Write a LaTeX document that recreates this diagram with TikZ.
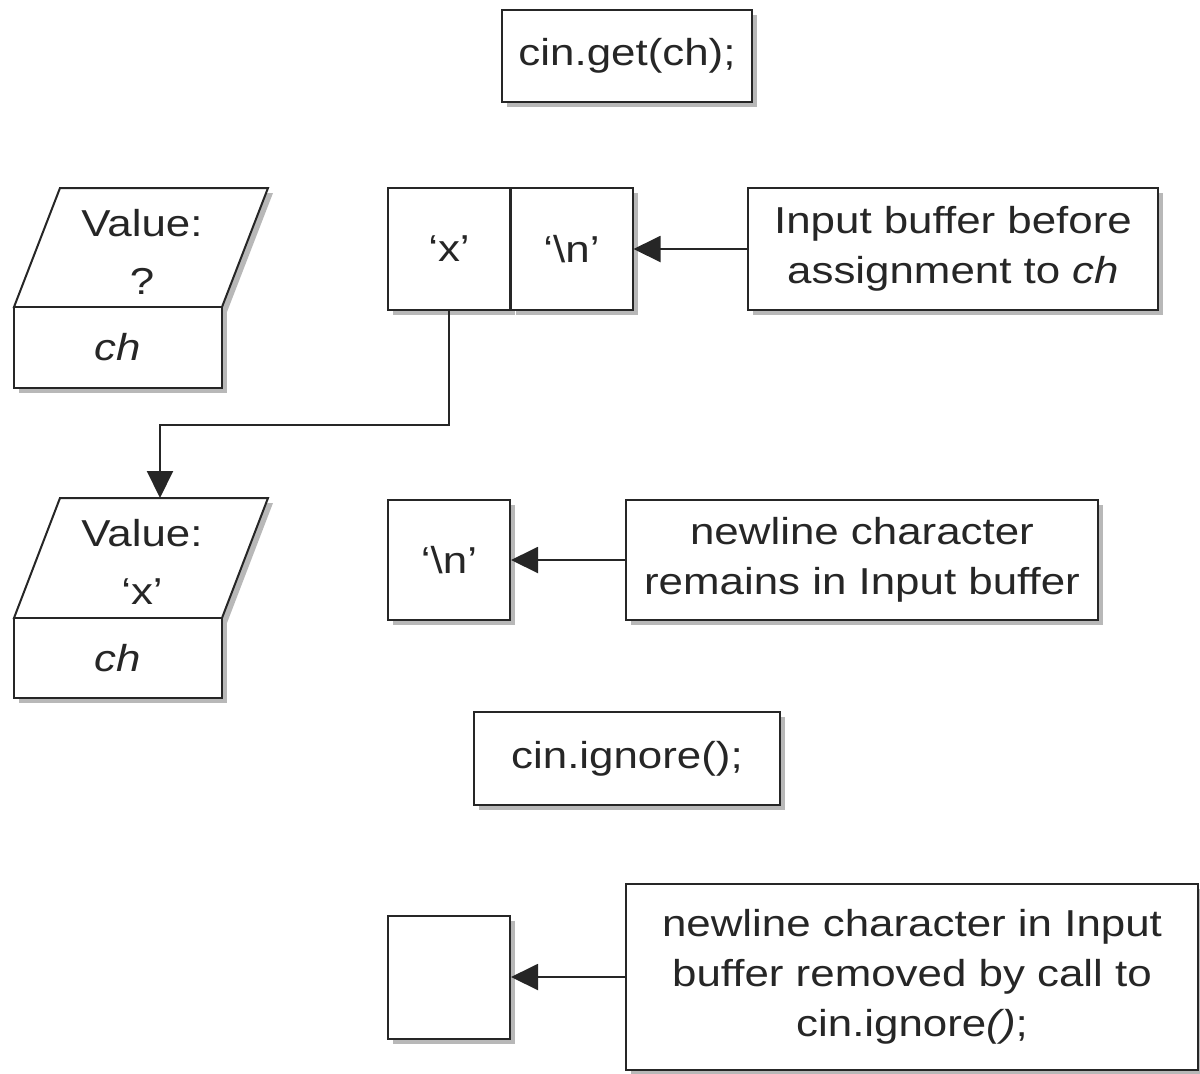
\documentclass[tikz,border=0pt]{standalone}
\usepackage{fontspec}
\setmainfont{Liberation Sans}[FakeStretch=1.17]
\usetikzlibrary{arrows.meta,shadows}
\tikzset{
  shad/.style={drop shadow={shadow xshift=2.5pt,shadow yshift=-2.5pt,fill=black!28,opacity=1}},
  box/.style={draw=black!85,line width=1pt,fill=white,shad,align=center,inner sep=0pt},
  cell/.style={box,minimum width=61pt,minimum height=61pt},
  arr/.style={draw=black!85,line width=1pt,-{Triangle[length=13.5pt,width=13pt]}}
}
\begin{document}
\begin{tikzpicture}[x=0.5pt,y=-0.5pt,font=\fontsize{18.75pt}{25pt}\selectfont,text=black!85]
    \useasboundingbox (0,0) rectangle (1200,1073);
    \node [box,minimum width=125pt,minimum height=46pt] (get) at (627,56) {cin.get(ch);};
    \filldraw [draw=black!85,fill=white,line width=1pt,shad] (14,307) -- (60,188) -- (268,188) -- (222,307) -- cycle;
    \node [box,minimum width=104pt,minimum height=40.5pt] (ch1) at (118,347.5) {\textit{ch}};
    \node [align=center] (val1) at (142,252) {Value:\\[4pt]?};
    \node [cell] (cx) at (449,249) {`x'};
    \node [cell] (cn) at (571.5,249) {`\textbackslash n'};
    \node [box,minimum width=205pt,minimum height=61pt] (note1) at (953,249) {Input buffer before\\assignment to \textit{ch}};
    \draw [arr] (note1.west) -- (cn.east);
    \coordinate (bend) at (160,425);
    \coordinate (val2top) at (160,498);
    \draw [arr] (cx.south) |- (bend) -- (val2top);
    \filldraw [draw=black!85,fill=white,line width=1pt,shad] (14,618) -- (60,498) -- (268,498) -- (222,618) -- cycle;
    \node [box,minimum width=104pt,minimum height=40pt] (ch2) at (118,658) {\textit{ch}};
    \node [align=center] (val2) at (142,562) {Value:\\[4pt]`x'};
    \node [cell,minimum height=60pt] (nl) at (449,560) {`\textbackslash n'};
    \node [box,minimum width=236pt,minimum height=60pt] (note2) at (862,560) {newline character\\remains in Input buffer};
    \draw [arr] (note2.west) -- (nl.east);
    \node [box,minimum width=153pt,minimum height=46.5pt] (ign) at (627,758.5) {cin.ignore();};
    \node [cell,minimum height=61.5pt] (empty) at (449,977) {};
    \node [box,minimum width=286pt,minimum height=93pt] (note3) at (912,977) {newline character in Input\\buffer removed by call to\\cin.ignore\textit{()};};
    \draw [arr] (note3.west) -- (empty.east);
\end{tikzpicture}
\end{document}
